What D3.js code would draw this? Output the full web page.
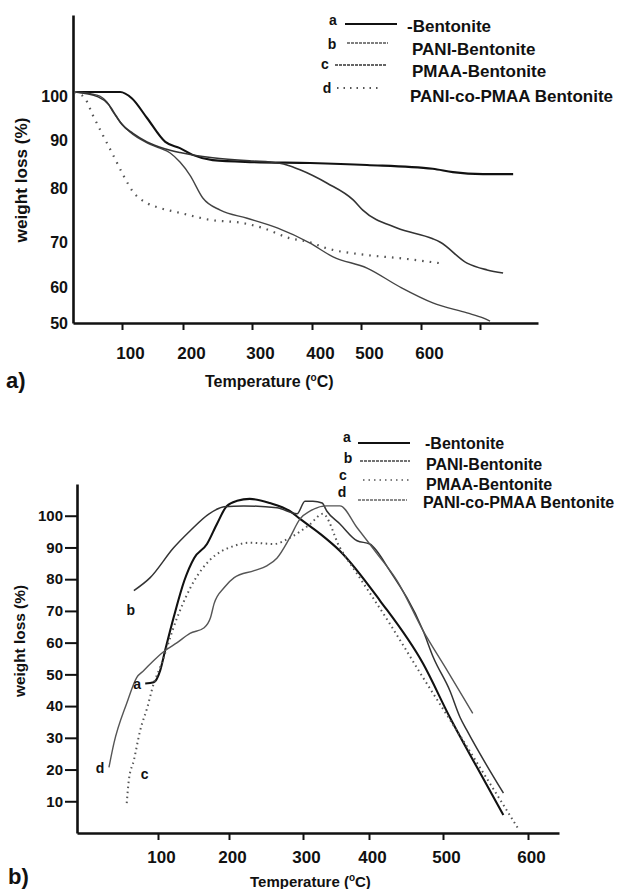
<!DOCTYPE html>
<html><head><meta charset="utf-8">
<script src="https://cdn.jsdelivr.net/npm/d3@7"></script>
<style>
body{margin:0;background:#fff;}
text{font-family:"Liberation Sans",Arial,sans-serif;font-weight:bold;fill:#111;}
</style></head>
<body>
<script>
// ---------- Panel a) TGA data ----------
const seriesNamesA = ["-Bentonite","PANI-Bentonite","PMAA-Bentonite","PANI-co-PMAA Bentonite"];
const seriesNamesB = ["-Bentonite","PANI-Bentonite","PMAA-Bentonite","PANI-co-PMAA Bentonite"];
const seriesLetters = ["a","b","c","d"];

const tempA_a = [21,97,116,141,171,195,214,243,302,397,510,620,654,705,756];
const lossA_a = [100.9,100.9,99.5,95,89.6,88.3,86.9,85.8,85.4,85.2,84.8,84.0,83.3,82.9,82.9];
const tempA_b = [21,58,75,85,97,113,141,162,179,195,210,229,254,293,342,396,443,510,565,620,678,705,717];
const lossA_b = [100.9,100.2,98.6,96.4,94.1,91.8,89.4,88.3,87.3,85.4,82.7,78.1,75.9,74.4,72.6,69.8,66.7,64.2,60,55.6,52.8,51.4,50.5];
const tempA_c = [21,60,78,90,100,118,141,170,195,243,302,330,358,380,431,484,503,560,620,632,678,712,739];
const lossA_c = [100.9,99.8,98,95.5,93.5,91.5,89.6,88.2,87.4,86.3,85.6,85.4,84.8,83.8,81.0,77.8,75.9,72.6,70.6,70,65.3,63.8,63.1];
const tempA_d = [21,38,51,68,85,102,118,141,162,195,239,287,318,363,395,427,510,565,632];
const lossA_d = [100.9,99.5,95.7,91.1,86.9,82.7,79.3,77.2,76.3,75.4,74.1,73.5,72.6,70.7,70,68.7,67.1,66.4,65.3];
const xTicksA = [100,200,300,400,500,600,700];
const yTicksA = [100,90,80,70,60,50];

// ---------- Panel b) data ----------
const tempB_a = [82,94,103,110,122,137,151,169,183,197,211,228,255,282,296,326,356,415,473,508,540,571];
const lossB_a = [47.1,47.5,51.2,57.5,67.9,79.5,86.7,91.1,97.4,103.1,104.7,105.3,104,101.5,99,94.3,88.9,73.2,53.4,36.5,20.7,5.7];
const tempB_b = [66,89,122,145,172,193,220,265,292,303,315,329,336,356,382,401,428,473,487,508,520,528,571];
const lossB_b = [76.4,80.5,89.9,95.2,100.6,102.8,103.1,102.5,100.6,104.6,104.6,104,101.5,97.4,92.1,91.1,82.7,63.8,55.3,44.9,36.5,32.4,12.6];
const tempB_c = [56,59,66,75,85,94,103,127,151,172,207,228,261,282,311,330,356,382,428,473,516,555,588];
const lossB_c = [9.4,16.7,22.9,32.4,39.6,47.1,52.2,67.9,79.5,85.8,90.5,91.5,91.1,93,97.4,100.6,89.9,81.7,66,49,32.4,15.7,1.6];
const tempB_d = [31,38,56,70,80,94,110,127,145,165,174,179,193,207,234,251,265,282,296,311,336,356,382,411,438,473,505,524,535];
const lossB_d = [20.7,28.3,40.9,49,51.2,54.4,57.5,60,62.9,64.7,67.9,72.3,77.3,80.5,82.7,84.2,86.7,93,99,101.5,103.1,103.1,96.2,88,79.5,63.8,51.2,42.7,37.7];
const xTicksB = [100,200,300,400,500,600];
const yTicksB = [10,20,30,40,50,60,70,80,90,100];

const svg = d3.select("body").append("svg").attr("width",622).attr("height",889);
const zip = (t,w)=>t.map((v,i)=>[v,w[i]]);

// ---------- scales (scanned axes are slightly uneven -> piecewise linear) ----------
const xA = d3.scaleLinear().domain([18,100,200,300,400,500,600,700,798]).range([73,122,183,252,312,361,421,480,538]);
const yA = d3.scaleLinear().domain([118,100,90,80,70,60,50]).range([15,96,140,188,242,287,323]);
const xB = d3.scaleLinear().domain([-14,100,200,300,400,500,600,640]).range([77,158,229,303,369,443,528,559]);
const yB = d3.scaleLinear().domain([0,110]).range([833,484]);

function styleAxis(g, fs){
  g.select(".domain").attr("stroke","#111").attr("stroke-width",2.6);
  g.selectAll(".tick line").attr("stroke","#111").attr("stroke-width",2);
  g.selectAll(".tick text").attr("font-size",fs).attr("fill","#111")
    .attr("font-family","'Liberation Sans',Arial,sans-serif").attr("font-weight","bold");
}

// ===== Panel a =====
const gA = svg.append("g");
const axYA = gA.append("g").attr("transform",`translate(${xA(18)},0)`)
  .call(d3.axisLeft(yA).tickValues(yTicksA).tickSize(0).tickSizeOuter(0).tickPadding(5));
styleAxis(axYA,16);
const axXA = gA.append("g").attr("transform",`translate(0,${yA(50)})`)
  .call(d3.axisBottom(xA).tickValues(xTicksA).tickSize(7).tickSizeOuter(0).tickPadding(17)
    .tickFormat(d=> d===700 ? "" : d));
styleAxis(axXA,17);
axXA.selectAll(".tick text").attr("dx",8);

const lineA = d3.line().x(d=>xA(d[0])).y(d=>yA(d[1])).curve(d3.curveMonotoneX);
const stylesA = [
  {stroke:"#111", w:2.1, dash:null},
  {stroke:"#444", w:1.4, dash:null},
  {stroke:"#333", w:1.6, dash:null},
  {stroke:"#555", w:2.2, dash:"1.6,6"}
];
const dataA = [zip(tempA_a,lossA_a), zip(tempA_b,lossA_b), zip(tempA_c,lossA_c), zip(tempA_d,lossA_d)];
dataA.forEach((d,i)=>{
  gA.append("path").datum(d).attr("d",lineA).attr("fill","none")
    .attr("stroke",stylesA[i].stroke).attr("stroke-width",stylesA[i].w)
    .attr("stroke-dasharray",stylesA[i].dash);
});

// legend a
const legA = [
  {lx:333, ly:25, x1:345, x2:397, y:24, tx:407, ty:32, dash:null, w:2, c:"#111"},
  {lx:332, ly:49, x1:347, x2:388, y:43, tx:412, ty:55, dash:"3,1", w:1.3, c:"#555"},
  {lx:325, ly:69, x1:335, x2:387, y:65, tx:412, ty:77, dash:"3,1", w:1.5, c:"#333"},
  {lx:327, ly:93, x1:337, x2:380, y:88, tx:410, ty:102, dash:"1.5,5", w:1.8, c:"#555"}
];
legA.forEach((L,i)=>{
  gA.append("text").attr("x",L.lx).attr("y",L.ly).attr("text-anchor","middle").attr("font-size",14).text(seriesLetters[i]);
  gA.append("line").attr("x1",L.x1).attr("x2",L.x2).attr("y1",L.y).attr("y2",L.y)
    .attr("stroke",L.c).attr("stroke-width",L.w).attr("stroke-dasharray",L.dash);
  gA.append("text").attr("x",L.tx).attr("y",L.ty).attr("font-size",17).text(seriesNamesA[i]);
});

// axis titles a
gA.append("text").attr("transform","translate(27,180) rotate(-90)").attr("text-anchor","middle")
  .attr("font-size",16).attr("textLength",125).attr("lengthAdjust","spacingAndGlyphs").text("weight loss (%)");
const tA = gA.append("text").attr("x",205).attr("y",387).attr("font-size",16);
tA.append("tspan").text("Temperature (");
tA.append("tspan").attr("dy",-6).attr("font-size",10).text("o");
tA.append("tspan").attr("dy",6).text("C)");
gA.append("text").attr("x",6).attr("y",388).attr("font-size",22)
  .attr("font-family","'Liberation Serif','Times New Roman',serif").text("a)");

// ===== Panel b =====
const gB = svg.append("g");
const axYB = gB.append("g").attr("transform",`translate(${xB(-14)},0)`)
  .call(d3.axisLeft(yB).tickValues(yTicksB).tickSize(12).tickSizeOuter(0).tickPadding(2));
styleAxis(axYB,15);
const axXB = gB.append("g").attr("transform",`translate(0,${yB(0)})`)
  .call(d3.axisBottom(xB).tickValues(xTicksB).tickSize(7).tickSizeOuter(0).tickPadding(11));
styleAxis(axXB,17);
axXB.selectAll(".tick text").attr("dx",3);

const lineB = d3.line().x(d=>xB(d[0])).y(d=>yB(d[1])).curve(d3.curveMonotoneX);
const stylesB = [
  {stroke:"#111", w:2.1, dash:null},
  {stroke:"#333", w:1.5, dash:null},
  {stroke:"#555", w:2, dash:"1.5,3.5"},
  {stroke:"#555", w:1.4, dash:null}
];
const dataB = [zip(tempB_a,lossB_a), zip(tempB_b,lossB_b), zip(tempB_c,lossB_c), zip(tempB_d,lossB_d)];
dataB.forEach((d,i)=>{
  gB.append("path").datum(d).attr("d",lineB).attr("fill","none")
    .attr("stroke",stylesB[i].stroke).attr("stroke-width",stylesB[i].w)
    .attr("stroke-dasharray",stylesB[i].dash);
});
// curve-start letters
const startOff = [[-8,0],[-3,19],[18,-29],[-9,1]];
dataB.forEach((d,i)=>{
  gB.append("text").attr("x",xB(d[0][0])+startOff[i][0]).attr("y",yB(d[0][1])+startOff[i][1]+5)
    .attr("text-anchor","middle").attr("font-size",14).text(seriesLetters[i]);
});

// legend b
const legB = [
  {lx:347, ly:442, x1:358, x2:410, y:443, tx:425, ty:449, dash:null, w:2, c:"#111"},
  {lx:348, ly:463, x1:360, x2:410, y:461, tx:426, ty:470, dash:"3,1", w:1.5, c:"#444"},
  {lx:343, ly:480, x1:363, x2:410, y:480, tx:426, ty:490, dash:"1.5,4", w:1.6, c:"#555"},
  {lx:342, ly:497, x1:358, x2:407, y:500, tx:423, ty:508, dash:"3,1", w:1.3, c:"#666"}
];
legB.forEach((L,i)=>{
  gB.append("text").attr("x",L.lx).attr("y",L.ly).attr("text-anchor","middle").attr("font-size",14).text(seriesLetters[i]);
  gB.append("line").attr("x1",L.x1).attr("x2",L.x2).attr("y1",L.y).attr("y2",L.y)
    .attr("stroke",L.c).attr("stroke-width",L.w).attr("stroke-dasharray",L.dash);
  gB.append("text").attr("x",L.tx).attr("y",L.ty).attr("font-size",16).text(seriesNamesB[i]);
});

gB.append("text").attr("transform","translate(25,641) rotate(-90)").attr("text-anchor","middle")
  .attr("font-size",15).attr("textLength",112).attr("lengthAdjust","spacingAndGlyphs").text("weight loss (%)");
const tB = gB.append("text").attr("x",250).attr("y",887).attr("font-size",15);
tB.append("tspan").text("Temperature (");
tB.append("tspan").attr("dy",-6).attr("font-size",10).text("o");
tB.append("tspan").attr("dy",6).text("C)");
gB.append("text").attr("x",8).attr("y",884).attr("font-size",22)
  .attr("font-family","'Liberation Serif','Times New Roman',serif").text("b)");
</script>
</body></html>
